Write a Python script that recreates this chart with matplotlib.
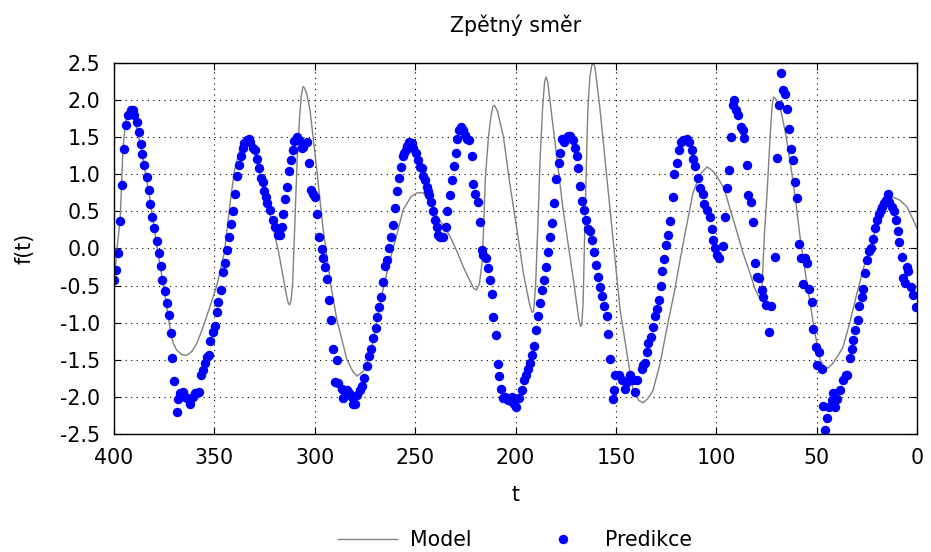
import numpy as np
import matplotlib
matplotlib.use('Agg')
import matplotlib.pyplot as plt
from matplotlib.ticker import FormatStrFormatter, MultipleLocator

plt.rcParams['font.family'] = 'DejaVu Sans'
plt.rcParams['axes.unicode_minus'] = False

# Model curve (t, f(t))
model_t = [400, 398.5, 397, 395.5, 394, 393, 391, 388, 385.5, 382, 378.6, 376, 373.5, 371.8,
           370.5, 368.8, 366.3, 363.8, 361.3, 358.8, 355.5, 352.2, 348.9, 345, 342, 340, 337,
           334, 331, 327, 322, 318, 315.8, 314.2, 313.2, 312.5, 311.8, 311, 310, 308.8, 307.5,
           306.7, 305.9, 305, 304, 302.4, 299, 296, 292, 289, 284, 281, 279, 276, 272, 269, 266,
           262.5, 259, 256, 252, 249, 246, 242, 239, 235, 232.6, 229, 226, 223, 220.8, 219.5,
           218, 216.5, 215, 213.5, 212.3, 211.3, 210.5, 209, 206, 203, 199, 196, 193, 191.8,
           191, 190, 188.5, 187.8, 186.5, 185.5, 184.8, 184, 181.3, 176.3, 171.4, 168.5, 167.6,
           167, 166.3, 165.5, 164, 163, 162, 161.3, 160.5, 160, 157.9, 152.9, 147.9, 144,
           141.5, 138.5, 136.5, 134, 131.5, 128, 124.5, 121, 118, 114.5, 111.6, 108, 104.6,
           102, 99.6, 96, 93, 90, 86.7, 83, 80.5, 79, 78, 77.3, 76, 74.7, 73, 72.2, 71.5, 70.5,
           68.2, 65.5, 63.3, 60.5, 58.3, 55.8, 53.3, 50.8, 48.3, 46, 44.3, 42, 39.5, 36.9,
           33.5, 29.9, 26.5, 23.4, 20, 16.9, 14, 12, 8.5, 5, 2.5, 0]
model_y = [-0.45, 0.0, 0.38, 1.37, 1.75, 1.87, 1.85, 1.55, 1.19, 0.65, 0.02, -0.4, -0.83, -1.14,
           -1.28, -1.37, -1.43, -1.44, -1.39, -1.28, -1.05, -0.78, -0.51, -0.05, 0.65, 1.05,
           1.37, 1.48, 1.40, 0.95, 0.42, -0.05, -0.38, -0.62, -0.74, -0.76, -0.70, -0.45, 0.3,
           1.19, 1.8, 2.06, 2.18, 2.16, 2.08, 1.87, 1.06, 0.29, -0.5, -0.96, -1.5, -1.66, -1.72,
           -1.66, -1.4, -0.96, -0.55, -0.15, 0.2, 0.52, 0.7, 0.75, 0.75, 0.6, 0.43, 0.27, 0.16,
           -0.05, -0.25, -0.42, -0.54, -0.56, -0.48, -0.15, 0.97, 1.5, 1.77, 1.91, 1.93, 1.85,
           1.5, 0.9, 0.2, -0.35, -0.75, -0.86, -0.85, -0.5, 0.6, 1.19, 1.9, 2.25, 2.31, 2.25,
           1.64, 0.52, -0.38, -0.95, -1.05, -1.03, -0.7, 0.29, 1.87, 2.3, 2.47, 2.5, 2.45, 2.35,
           1.87, 0.52, -0.83, -1.5, -1.91, -2.05, -2.08, -2.02, -1.91, -1.55, -1.06, -0.6,
           -0.15, 0.35, 0.75, 1.0, 1.1, 1.05, 0.97, 0.8, 0.52, 0.25, -0.06, -0.35, -0.56, -0.64,
           -0.65, -0.55, 0.2, 0.75, 1.6, 1.92, 2.04, 2.02, 1.91, 1.55, 1.19, 0.65, 0.16, -0.3,
           -0.73, -1.15, -1.5, -1.6, -1.61, -1.55, -1.45, -1.33, -1.0, -0.6, -0.25, 0.02, 0.3,
           0.56, 0.66, 0.69, 0.65, 0.56, 0.42, 0.27]

# Predicted points (t, f(t))
pred_t = [400.0, 399.0, 397.9, 397.0, 395.9, 395.0, 394.0, 392.9, 391.7, 390.7, 390.0, 388.7,
          387.7, 386.7, 385.9, 384.9, 383.7, 382.7, 381.9, 380.9, 379.9, 378.8, 377.8, 376.8,
          375.9, 374.6, 373.8, 372.8, 371.8, 370.9, 370.0, 368.8, 368.0, 367.1, 365.8, 364.6,
          363.5, 362.1, 360.8, 359.7, 358.5, 357.5, 356.8, 355.8, 354.8, 353.8, 352.9, 352.2,
          350.9, 349.7, 348.9, 348.0, 346.9, 345.5, 344.7, 343.9, 342.7, 341.9, 340.9, 339.7,
          338.9, 337.6, 336.9, 335.9, 335.1, 333.9, 332.9, 332.3, 330.9, 329.9, 328.9, 327.8,
          326.9, 326.0, 325.3, 324.3, 323.6, 322.3, 321.0, 319.8, 318.5, 317.3, 316.5, 316.0,
          314.8, 314.0, 312.7, 311.8, 311.0, 310.2, 309.0, 307.9, 306.5, 305.7, 304.0, 302.9,
          301.8, 300.7, 299.9, 298.7, 297.8, 296.6, 295.8, 294.9, 293.8, 292.8, 291.9, 291.1,
          288.8, 289.9, 288.3, 286.6, 285.8, 284.1, 282.8, 281.6, 280.8, 280.0, 279.2, 277.5,
          276.7, 275.5, 273.8, 272.8, 272.0, 270.9, 269.7, 268.9, 267.9, 266.9, 265.9, 264.9,
          264.0, 263.0, 262.1, 260.9, 259.9, 258.9, 257.9, 257.1, 256.2, 255.6, 254.7, 253.9,
          252.9, 251.8, 250.9, 249.6, 248.4, 247.6, 246.6, 245.9, 245.1, 244.3, 243.5, 243.0,
          242.3, 241.3, 240.1, 239.3, 238.5, 237.6, 236.3, 234.7, 234.0, 232.7, 231.8, 230.7,
          229.8, 229.0, 228.2, 227.3, 226.4, 225.2, 224.4, 223.0, 221.9, 221.0, 220.2, 218.9,
          217.7, 216.9, 216.1, 214.9, 213.6, 212.7, 211.9, 211.1, 209.9, 208.9, 208.3, 207.3,
          206.4, 205.3, 203.6, 202.4, 201.9, 200.7, 199.7, 198.5, 196.9, 195.7, 194.7, 193.6,
          192.7, 191.9, 190.7, 189.7, 188.6, 187.8, 186.6, 185.8, 184.8, 183.6, 182.8, 181.8,
          180.8, 179.8, 178.6, 177.8, 177.0, 176.1, 175.3, 174.1, 172.8, 171.5, 170.3, 169.5,
          168.7, 167.8, 166.8, 165.8, 164.8, 163.8, 162.8, 161.9, 160.7, 159.9, 158.7, 157.9,
          156.9, 155.7, 154.5, 153.7, 152.9, 150.4, 150.9, 151.6, 148.7, 147.1, 145.4, 144.6,
          142.9, 141.6, 140.4, 139.3, 137.1, 136.3, 135.5, 134.6, 133.8, 132.6, 131.6, 130.6,
          129.6, 128.6, 127.6, 126.8, 126.0, 125.0, 124.0, 123.0, 121.8, 121.0, 119.7, 118.8,
          117.7, 116.4, 114.7, 113.4, 112.2, 111.4, 110.5, 108.9, 108.1, 106.7, 105.9, 104.7,
          103.1, 102.3, 101.4, 100.6, 99.8, 98.5, 96.8, 95.6, 94.8, 93.6, 92.8, 91.8, 91.1,
          90.1, 89.0, 87.8, 86.8, 86.0, 84.8, 84.0, 82.8, 81.8, 80.7, 79.9, 78.5, 77.4, 76.5,
          75.2, 73.5, 72.7, 70.7, 69.9, 68.7, 67.9, 66.9, 65.7, 64.6, 63.7, 62.8, 61.6, 60.6,
          59.6, 58.8, 57.9, 56.6, 55.8, 54.6, 53.6, 52.5, 51.6, 50.3, 48.6, 49.6, 47.5, 46.6,
          45.8, 45.0, 43.7, 42.5, 41.7, 40.8, 39.7, 38.3, 36.7, 35.3, 34.7, 33.4, 32.5, 31.7,
          30.7, 29.5, 28.7, 27.5, 27.0, 25.9, 25.1, 23.9, 23.1, 21.7, 20.9, 19.7, 18.7, 18.1,
          17.3, 16.4, 15.4, 14.6, 13.8, 12.6, 11.5, 10.6, 9.6, 8.8, 7.6, 6.8, 6.0, 5.1, 4.3,
          3.0, 2.1, 0.6]
pred_y = [-0.43, -0.29, -0.06, 0.37, 0.86, 1.34, 1.66, 1.80, 1.87, 1.87, 1.80, 1.71, 1.57, 1.41,
          1.27, 1.13, 0.96, 0.79, 0.60, 0.42, 0.27, 0.10, -0.06, -0.23, -0.42, -0.58, -0.73,
          -0.90, -1.14, -1.47, -1.78, -2.20, -2.03, -1.95, -1.93, -2.00, -2.02, -2.09, -2.00,
          -1.95, -1.95, -1.93, -1.71, -1.64, -1.55, -1.46, -1.44, -1.25, -1.13, -1.04, -0.85,
          -0.72, -0.56, -0.32, -0.19, -0.02, 0.15, 0.33, 0.51, 0.73, 0.97, 1.12, 1.25, 1.35,
          1.42, 1.46, 1.48, 1.44, 1.36, 1.32, 1.21, 1.09, 0.95, 0.89, 0.77, 0.70, 0.61, 0.52,
          0.38, 0.29, 0.18, 0.18, 0.29, 0.47, 0.66, 0.83, 1.04, 1.19, 1.33, 1.45, 1.50, 1.46,
          1.35, 1.37, 1.43, 1.15, 0.79, 0.74, 0.70, 0.46, 0.15, -0.01, -0.13, -0.25, -0.41,
          -0.69, -0.96, -1.35, -1.50, -1.80, -1.81, -1.89, -2.02, -1.91, -1.95, -2.00, -2.09,
          -2.09, -1.97, -1.91, -1.86, -1.74, -1.58, -1.45, -1.35, -1.20, -1.07, -0.93, -0.79,
          -0.66, -0.45, -0.23, -0.15, 0.00, 0.15, 0.32, 0.55, 0.77, 0.95, 1.10, 1.24, 1.28,
          1.33, 1.38, 1.43, 1.42, 1.36, 1.28, 1.19, 1.10, 1.09, 0.98, 0.92, 0.83, 0.77, 0.72,
          0.63, 0.51, 0.38, 0.29, 0.18, 0.16, 0.16, 0.29, 0.51, 0.72, 0.92, 1.11, 1.28, 1.48,
          1.60, 1.64, 1.59, 1.53, 1.48, 1.46, 1.25, 0.87, 0.73, 0.63, 0.35, -0.02, -0.09, -0.13,
          -0.27, -0.43, -0.62, -0.93, -1.17, -1.56, -1.72, -1.89, -2.01, -2.00, -2.04, -2.06,
          -2.00, -2.09, -2.13, -2.02, -1.91, -1.77, -1.71, -1.62, -1.55, -1.44, -1.31, -1.10,
          -0.91, -0.74, -0.56, -0.43, -0.25, -0.05, 0.16, 0.34, 0.61, 0.93, 1.15, 1.28, 1.48,
          1.44, 1.47, 1.51, 1.52, 1.46, 1.36, 1.24, 1.08, 0.84, 0.64, 0.52, 0.38, 0.26, 0.23,
          0.11, -0.05, -0.22, -0.39, -0.52, -0.64, -0.77, -0.91, -1.15, -1.49, -1.71, -1.91,
          -2.03, -1.71, -1.77, -1.89, -1.80, -1.71, -1.77, -1.93, -1.77, -1.63, -1.57, -1.55,
          -1.40, -1.28, -1.19, -1.06, -0.91, -0.81, -0.69, -0.51, -0.30, -0.14, 0.04, 0.18,
          0.37, 0.70, 1.01, 1.15, 1.33, 1.44, 1.46, 1.47, 1.43, 1.33, 1.21, 1.11, 0.95, 0.82,
          0.73, 0.60, 0.52, 0.43, 0.26, 0.11, 0.00, -0.09, -0.13, 0.03, 0.42, 0.81, 1.06, 1.50,
          1.93, 2.00, 1.87, 1.80, 1.64, 1.60, 1.49, 1.13, 0.72, 0.63, 0.35, -0.20, -0.39, -0.40,
          -0.56, -0.65, -0.76, -1.13, -0.78, -0.11, 1.22, 1.93, 2.37, 2.14, 2.08, 1.88, 1.61,
          1.34, 1.19, 0.90, 0.68, 0.06, -0.13, -0.48, -0.13, -0.19, -0.54, -0.72, -1.08, -1.33,
          -1.39, -1.57, -1.62, -2.12, -2.45, -2.29, -2.13, -2.04, -1.95, -2.13, -2.03, -1.91,
          -1.77, -1.71, -1.71, -1.48, -1.35, -1.23, -1.10, -0.96, -0.77, -0.65, -0.54, -0.33,
          -0.16, -0.03, 0.01, 0.13, 0.27, 0.38, 0.47, 0.52, 0.56, 0.61, 0.65, 0.74, 0.63, 0.56,
          0.50, 0.39, 0.24, 0.09, -0.11, -0.40, -0.46, -0.25, -0.31, -0.52, -0.63, -0.79]

fig = plt.figure(figsize=(9.31, 5.52), dpi=100)
ax = fig.add_axes([0.1225, 0.2138, 0.8625, 0.6722])

ax.plot(model_t, model_y, color='gray', linewidth=1.0, label='Model')
ax.plot(pred_t, pred_y, 'o', color='blue', markersize=6.8, markeredgewidth=0, label='Predikce')

ax.set_xlim(400, 0)
ax.set_ylim(-2.5, 2.5)
ax.xaxis.set_major_locator(MultipleLocator(50))
ax.yaxis.set_major_locator(MultipleLocator(0.5))
ax.yaxis.set_major_formatter(FormatStrFormatter('%.1f'))
ax.tick_params(direction='in', top=True, right=True, labelsize=14.8, length=5, pad=10)
ax.grid(True, color='black', linestyle=(0, (1, 4)), linewidth=0.8)
for s in ax.spines.values():
    s.set_linewidth(1.0)

ax.set_title('Zpětný směr', fontsize=14.8, pad=22)
ax.set_xlabel('t', fontsize=14.8, labelpad=12)
ax.set_ylabel('f(t)', fontsize=14.8, labelpad=18)

fig.legend(loc='center', bbox_to_anchor=(0.553, 0.022), ncol=2, frameon=False,
           fontsize=14.8, handlelength=2.9, handletextpad=0.6, columnspacing=3.0)

fig.savefig('out.png', dpi=100)
